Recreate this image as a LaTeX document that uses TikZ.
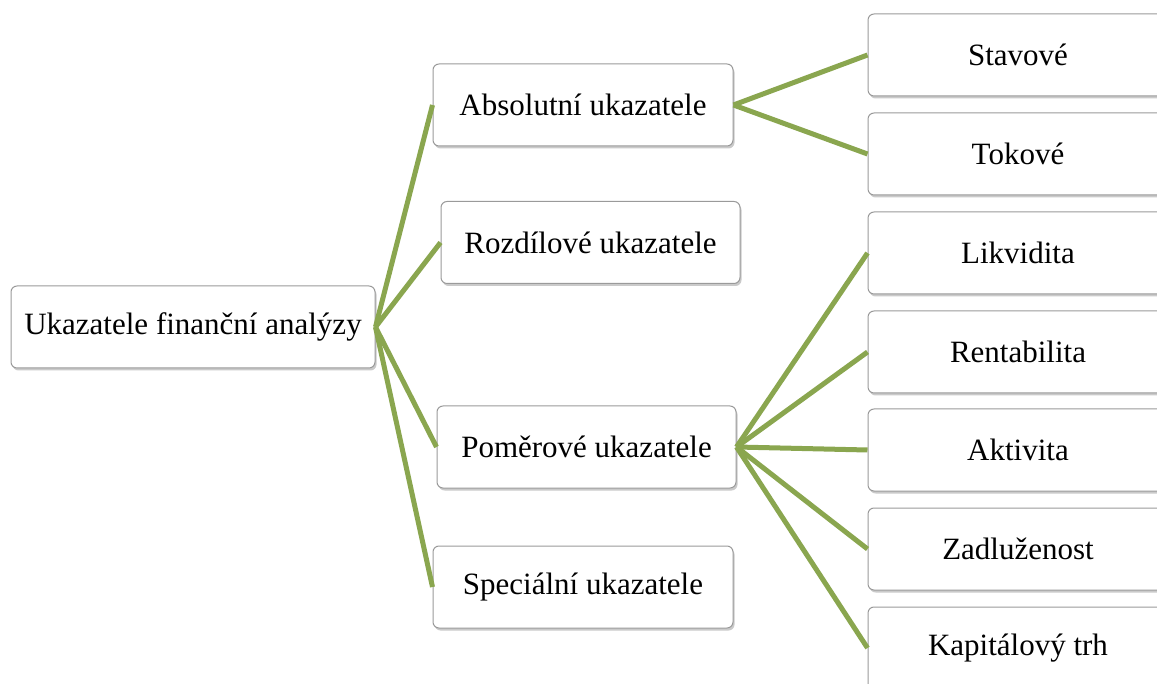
\documentclass[tikz,border=0pt]{standalone}
\usepackage{fontspec}
\setmainfont{Liberation Serif}
\usetikzlibrary{shadows}
\definecolor{lineg}{HTML}{8AA64F}
\definecolor{boxb}{HTML}{9A9A9A}
\begin{document}
\begin{tikzpicture}[x=1pt,y=-1pt,
  box/.style={draw=boxb, line width=1pt, fill=white, rounded corners=6pt,
    minimum height=82pt, inner sep=0pt, font=\fontsize{31}{36}\selectfont,
    drop shadow={shadow xshift=1.5pt, shadow yshift=-2.5pt, opacity=0.35, fill=black!60}},
  conn/.style={draw=lineg, line width=5pt}]
\useasboundingbox (0,0) rectangle (1157,684);
\begin{scope}
\clip (0,0) rectangle (1157,684);
\node[box, minimum width=364pt] (root) at (193,327) {Ukazatele finanční analýzy};
\node[box, minimum width=300pt] (abs) at (583,105) {Absolutní ukazatele};
\node[box, minimum width=299pt] (roz) at (590.5,242.5) {Rozdílové ukazatele};
\node[box, minimum width=299pt] (pom) at (586.5,447) {Poměrové ukazatele};
\node[box, minimum width=300pt] (spe) at (583,587) {Speciální ukazatele};
\node[box, minimum width=300pt] (sta) at (1018,55) {Stavové};
\node[box, minimum width=300pt] (tok) at (1018,154) {Tokové};
\node[box, minimum width=300pt] (lik) at (1018,253) {Likvidita};
\node[box, minimum width=300pt] (ren) at (1018,352) {Rentabilita};
\node[box, minimum width=300pt] (akt) at (1018,450) {Aktivita};
\node[box, minimum width=300pt] (zad) at (1018,549) {Zadluženost};
\node[box, minimum width=300pt] (kap) at (1018,648) {Kapitálový trh};
\foreach \t in {abs,roz,pom,spe} \draw[conn] (root.east) -- (\t.west);
\foreach \t in {sta,tok} \draw[conn] (abs.east) -- (\t.west);
\foreach \t in {lik,ren,akt,zad,kap} \draw[conn] (pom.east) -- (\t.west);
\end{scope}
\end{tikzpicture}
\end{document}
